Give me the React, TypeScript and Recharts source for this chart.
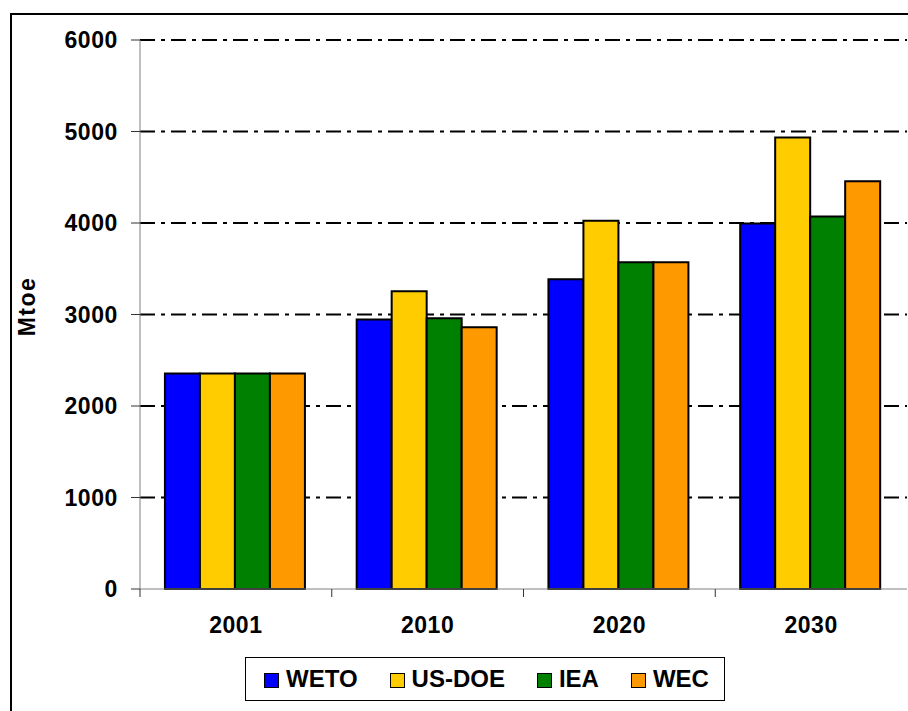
import React from 'react';
import { BarChart, Bar, XAxis, YAxis, CartesianGrid, Label } from 'recharts';

const years = ['2001', '2010', '2020', '2030'];
const weto = [2355, 2945, 3385, 3995];
const usDoe = [2355, 3255, 4025, 4935];
const iea = [2355, 2960, 3570, 4070];
const wec = [2355, 2860, 3570, 4455];
const yTicks = [0, 1000, 2000, 3000, 4000, 5000, 6000];
const gridValues = [1000, 2000, 3000, 4000, 5000, 6000];
const seriesKeys = ['weto', 'usDoe', 'iea', 'wec'];
const seriesNames = ['WETO', 'US-DOE', 'IEA', 'WEC'];
const seriesColors = ['#0000FF', '#FFCC00', '#008000', '#FF9900'];

const data = years.map((year, i) => ({
  year,
  weto: weto[i],
  usDoe: usDoe[i],
  iea: iea[i],
  wec: wec[i],
}));

const FONT = '"Liberation Sans", Arial, sans-serif';

const XTick = (props: any) => {
  const { x, y, payload, width, visibleTicksCount } = props;
  const w = typeof width === 'number' ? width : 767;
  const n = visibleTicksCount || years.length;
  const half = w / n / 2;
  return (
    <g>
      <line x1={x - half} y1={y} x2={x - half} y2={y + 8} stroke="#333" strokeWidth={1} />
      <text
        x={x}
        y={y + 44}
        textAnchor="middle"
        fontFamily={FONT}
        fontWeight="bold"
        fontSize={23}
        letterSpacing={0.5}
        fill="#000"
      >
        {payload.value}
      </text>
    </g>
  );
};

const YLabel = (props: any) => {
  const vb = props.viewBox || { x: 0, y: 40, width: 140, height: 549 };
  const cy = vb.y + vb.height / 2 - 8;
  return (
    <text
      x={35}
      y={cy}
      transform={`rotate(-90, 35, ${cy})`}
      textAnchor="middle"
      fontFamily={FONT}
      fontWeight="bold"
      fontSize={23}
      letterSpacing={1.5}
      fill="#000"
    >
      Mtoe
    </text>
  );
};

export default function App() {
  return (
    <div
      style={{
        position: 'absolute',
        left: 0,
        top: 0,
        width: 908,
        height: 711,
        overflow: 'hidden',
        background: '#fff',
        fontFamily: FONT,
      }}
    >
      <div
        style={{
          position: 'absolute',
          left: 10,
          top: 13,
          width: 1000,
          height: 1000,
          border: '2px solid #000',
        }}
      />
      <div style={{ position: 'absolute', left: 0, top: 0 }}>
        <BarChart
          width={908}
          height={711}
          data={data}
          margin={{ top: 40, right: 1, left: 0, bottom: 62 }}
          barCategoryGap="13%"
          barGap={0}
        >
          <CartesianGrid
            vertical={false}
            horizontalValues={gridValues}
            stroke="#000"
            strokeWidth={2}
            strokeDasharray="15 6 4 6"
          />
          <XAxis
            dataKey="year"
            height={60}
            axisLine={{ stroke: '#808080', strokeWidth: 1 }}
            tickLine={false}
            tickSize={0}
            tickMargin={0}
            tick={<XTick />}
            interval={0}
          />
          <YAxis
            width={140}
            domain={[0, 6000]}
            ticks={yTicks}
            interval={0}
            axisLine={{ stroke: '#808080', strokeWidth: 1 }}
            tickLine={{ stroke: '#333', strokeWidth: 1 }}
            tickSize={9}
            tickMargin={13}
            tick={{ fontFamily: FONT, fontWeight: 'bold', fontSize: 23, fill: '#000', letterSpacing: 0.6 }}
          >
            <Label content={<YLabel />} />
          </YAxis>
          {seriesKeys.map((k, i) => (
            <Bar
              key={k}
              dataKey={k}
              name={seriesNames[i]}
              fill={seriesColors[i]}
              stroke="#000"
              strokeWidth={2}
              isAnimationActive={false}
            />
          ))}
        </BarChart>
      </div>
      <div
        style={{
          position: 'absolute',
          left: 245,
          top: 657,
          width: 460,
          height: 42,
          border: '1px solid #000',
          display: 'flex',
          alignItems: 'center',
          paddingLeft: 18,
          boxSizing: 'content-box',
          gap: 32,
        }}
      >
        {seriesNames.map((name, i) => (
          <div key={name} style={{ display: 'flex', alignItems: 'center', gap: 7 }}>
            <div
              style={{
                width: 13,
                height: 13,
                background: seriesColors[i],
                border: '1px solid #000',
                marginTop: 3,
              }}
            />
            <span
              style={{
                fontFamily: FONT,
                fontWeight: 'bold',
                fontSize: 24,
                color: '#000',
                lineHeight: '24px',
              }}
            >
              {name}
            </span>
          </div>
        ))}
      </div>
    </div>
  );
}
